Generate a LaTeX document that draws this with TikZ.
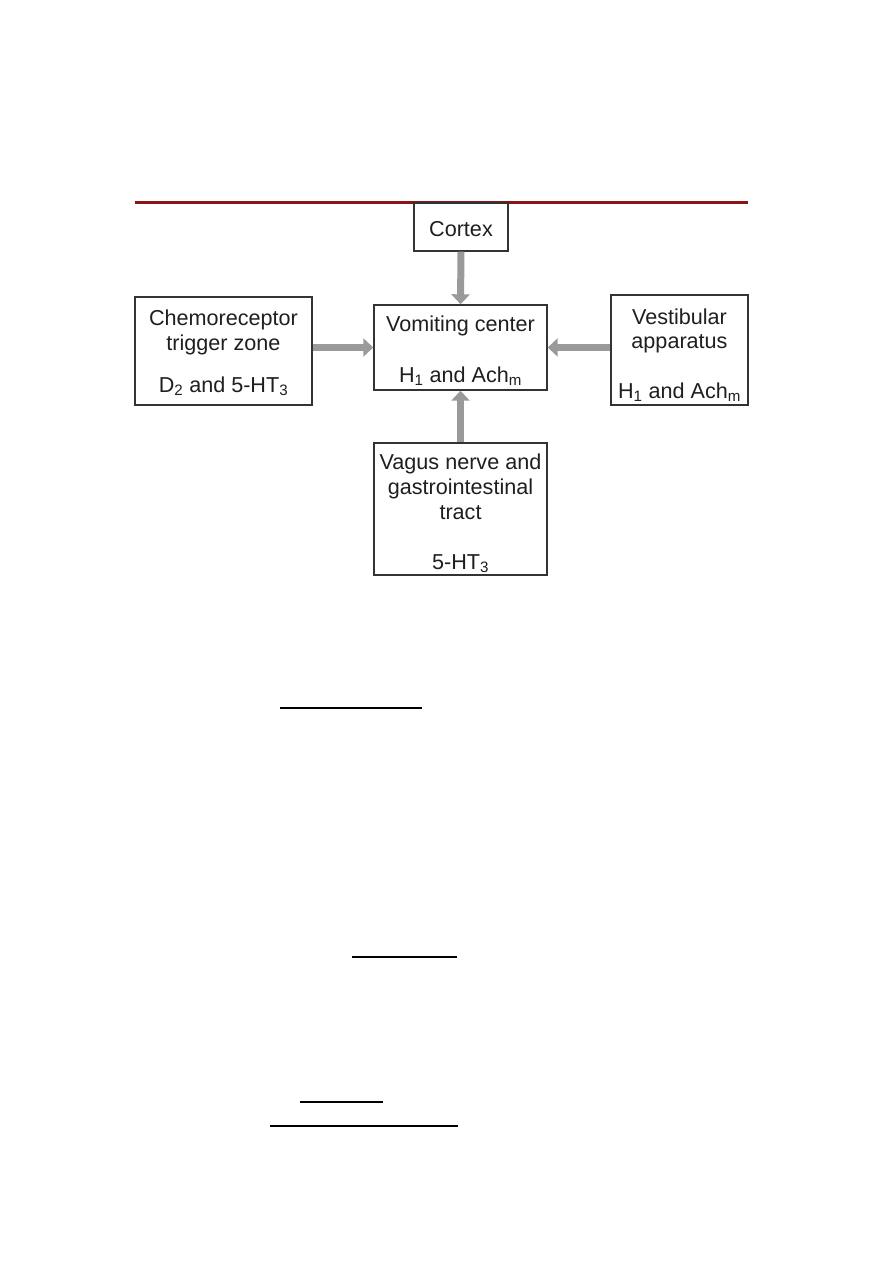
\documentclass[tikz,border=0pt]{standalone}
\usepackage{fontspec}
\setmainfont{Liberation Sans}
\usetikzlibrary{arrows.meta}
\definecolor{darkred}{HTML}{8C1414}
\definecolor{boxline}{HTML}{333333}
\definecolor{arrgray}{HTML}{9A9A9A}
\begin{document}
\begin{tikzpicture}[x=1pt,y=-1pt,
  boxnode/.style={draw=boxline,line width=1.4pt,fill=white,inner sep=0pt},
  txt/.style={font=\fontsize{21.6}{25}\selectfont,text=black!88,inner sep=0pt,align=center},
  arr/.style={draw=arrgray,line width=7pt,-{Triangle[width=18pt,length=10pt]}},
  uline/.style={line width=1.3pt,black}]
\useasboundingbox (0,0) rectangle (893,1263);
% red rule
\draw[darkred,line width=3pt] (135,202) -- (748,202);
% boxes
\node[boxnode,minimum width=94pt,minimum height=48pt] (cortex) at (461,227) {};
\node[boxnode,minimum width=177pt,minimum height=108pt] (chemo) at (223.5,351) {};
\node[boxnode,minimum width=173pt,minimum height=85pt] (vc) at (460.5,347.5) {};
\node[boxnode,minimum width=137pt,minimum height=110pt] (vest) at (679.5,350) {};
\node[boxnode,minimum width=173pt,minimum height=132pt] (vagus) at (460.5,509) {};
% texts
\node[txt] (tcortex) at (461,229) {Cortex};
\node[txt,anchor=base] (tchemo1) at (223.5,325) {Chemoreceptor};
\node[txt,anchor=base] (tchemo2) at (223.5,350) {trigger zone};
\node[txt,anchor=base] (tchemo3) at (223.5,392) {D\textsubscript{2} and 5-HT\textsubscript{3}};
\node[txt,anchor=base] (tvc1) at (460.5,331) {Vomiting center};
\node[txt,anchor=base] (tvc2) at (460.5,382) {H\textsubscript{1} and Ach\textsubscript{m}};
\node[txt,anchor=base] (tvest1) at (679.5,324) {Vestibular};
\node[txt,anchor=base] (tvest2) at (679.5,348) {apparatus};
\node[txt,anchor=base] (tvest3) at (679.5,398) {H\textsubscript{1} and Ach\textsubscript{m}};
\node[txt,anchor=base] (tvag1) at (460.5,469) {Vagus nerve and};
\node[txt,anchor=base] (tvag2) at (460.5,494) {gastrointestinal};
\node[txt,anchor=base] (tvag3) at (460.5,519) {tract};
\node[txt,anchor=base] (tvag4) at (460.5,569) {5-HT\textsubscript{3}};
% arrows
\draw[arr] (cortex.south) -- (vc.north);
\draw[arr] (chemo.east |- vc.west) -- (vc.west);
\draw[arr] (vest.west |- vc.east) -- (vc.east);
\draw[arr] (vagus.north) -- (vc.south);
% underlines
\draw[uline] (280,708) -- (422,708);
\draw[uline] (352,957) -- (457,957);
\draw[uline] (300,1102) -- (383,1102);
\draw[uline] (270,1126) -- (458,1126);
\end{tikzpicture}
\end{document}
